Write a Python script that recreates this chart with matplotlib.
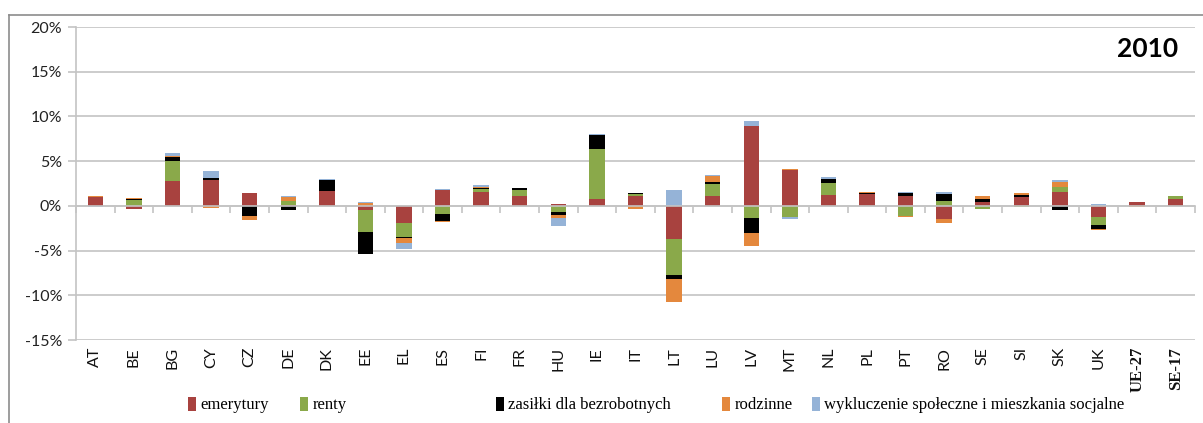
import matplotlib
matplotlib.use("Agg")
import matplotlib.pyplot as plt
from matplotlib.lines import Line2D
from matplotlib.patches import Patch
import numpy as np

countries = ["AT", "BE", "BG", "CY", "CZ", "DE", "DK", "EE", "EL", "ES", "FI", "FR", "HU", "IE",
             "IT", "LT", "LU", "LV", "MT", "NL", "PL", "PT", "RO", "SE", "SI", "SK", "UK",
             "UE-27", "SE-17"]

# values in percent; positive and negative parts stacked separately (Excel style)
emerytury = [0.95, -0.35, 2.8, 2.85, 1.4, 0.1, 1.7, -0.5, -1.9, 1.8, 1.55, 1.05, 0.2, 0.75,
             1.05, -3.75, 1.15, 8.95, 4.05, 1.2, 1.3, 1.15, -1.5, 0.4, 1.0, 1.6, -1.25,
             0.45, 0.75]
renty = [0.0, 0.7, 2.2, 0.0, 0.0, 0.4, 0.0, -2.45, -1.55, -0.9, 0.3, 0.75, -0.65, 5.6,
         0.3, -3.95, 1.35, -1.35, -1.2, 1.35, 0.0, -1.1, 0.5, -0.35, -0.1, 0.5, -0.85,
         0.0, 0.3]
zasilki = [0.0, 0.1, 0.5, 0.3, -1.1, -0.45, 1.2, -2.45, -0.2, -0.75, 0.2, 0.2, -0.35, 1.55,
           0.1, -0.45, 0.2, -1.65, -0.07, 0.5, 0.15, 0.3, 0.8, 0.4, 0.25, -0.45, -0.45,
           0.0, 0.0]
rodzinne = [0.2, 0.05, 0.1, -0.2, -0.45, 0.45, 0.0, 0.3, -0.55, -0.15, 0.1, 0.0, -0.35, 0.0,
            -0.35, -2.55, 0.6, -1.45, 0.1, 0.0, 0.15, -0.1, -0.45, 0.3, 0.15, 0.55, -0.1,
            -0.15, 0.0]
wykluczenie = [-0.1, 0.0, 0.35, 0.8, 0.05, 0.1, 0.05, 0.15, -0.6, 0.05, 0.15, 0.05, -0.85, 0.1,
               0.0, 1.75, 0.1, 0.55, -0.25, 0.15, 0.0, 0.05, 0.2, 0.0, 0.0, 0.25, 0.2,
               0.0, 0.1]

series = [
    ("emerytury", emerytury, "#A8423F"),
    ("renty", renty, "#8AA94A"),
    ("zasiłki dla bezrobotnych", zasilki, "#000000"),
    ("rodzinne", rodzinne, "#E4883D"),
    ("wykluczenie społeczne i mieszkania socjalne", wykluczenie, "#95B3D7"),
]

W, H = 1203, 423
fig = plt.figure(figsize=(W / 100, H / 100), dpi=100)
ax = fig.add_axes([76 / W, 1 - 340 / H, 1119 / W, 313 / H])

x = np.arange(len(countries))
pos_base = np.zeros(len(countries))
neg_base = np.zeros(len(countries))
handles = []
for name, vals, col in series:
    v = np.array(vals, dtype=float)
    pos = np.where(v > 0, v, 0)
    neg = np.where(v < 0, v, 0)
    ax.bar(x, pos, 0.4, bottom=pos_base, color=col, zorder=3)
    ax.bar(x, neg, 0.4, bottom=neg_base, color=col, zorder=3)
    pos_base += pos
    neg_base += neg
    handles.append(Patch(facecolor=col, label=name))

ax.set_xlim(-0.5, len(countries) - 0.5)
ax.set_ylim(-15, 20)
ax.set_yticks(np.arange(-15, 21, 5))
ax.set_yticklabels([f"{t}%" for t in range(-15, 21, 5)], fontsize=11.5,
                   family=["Lato", "DejaVu Sans"], color="#222222")
ax.grid(axis="y", color="#C4C4C4", linewidth=1.2, zorder=0)
ax.tick_params(axis="y", length=6, color="#C4C4C4", width=1.2, pad=4)

for s in ["top", "right"]:
    ax.spines[s].set_visible(False)
ax.spines["left"].set_color("#C4C4C4")
ax.spines["left"].set_linewidth(1.2)
ax.spines["bottom"].set_position(("data", 0))
ax.spines["bottom"].set_color("#C4C4C4")
ax.spines["bottom"].set_linewidth(1.2)
ax.spines["bottom"].set_zorder(4)
ax.set_xticks(np.arange(len(countries) + 1) - 0.5)
ax.set_xticklabels([])
ax.tick_params(axis="x", length=5, color="#C4C4C4", width=1.2, direction="out")

sec = ax.secondary_xaxis(0)
sec.set_xticks(x)
labels = sec.set_xticklabels(countries, rotation=90, fontsize=11.5,
                             family=["Lato", "DejaVu Sans"], color="#111111")
for lab in labels[-2:]:
    lab.set_family(["Liberation Serif"])
    lab.set_fontweight("bold")
    lab.set_fontsize(12)
sec.tick_params(length=0, pad=5)
sec.spines["bottom"].set_visible(False)

ax.text(0.985, 0.93, "2010", transform=ax.transAxes, ha="right", va="center",
        fontsize=19, fontweight="bold", family=["Lato", "DejaVu Sans"])

# chart frame (top and left)
fig.add_artist(Line2D([9 / W, 1.0], [1 - 15 / H, 1 - 15 / H], transform=fig.transFigure,
                      color="#8C8C8C", linewidth=1.2))
fig.add_artist(Line2D([9 / W, 9 / W], [0, 1 - 15 / H], transform=fig.transFigure,
                      color="#8C8C8C", linewidth=1.2))

leg_x = [188, 300, 496, 722, 812]
for h, lx in zip(handles, leg_x):
    fig.legend(handles=[h], loc="center left", bbox_to_anchor=(lx / W, 1 - 405 / H),
               frameon=False, handlelength=0.5, handleheight=0.9, handletextpad=0.25,
               borderpad=0, borderaxespad=0,
               prop={"family": "Liberation Serif", "size": 12})

fig.savefig("out.png", dpi=100)
